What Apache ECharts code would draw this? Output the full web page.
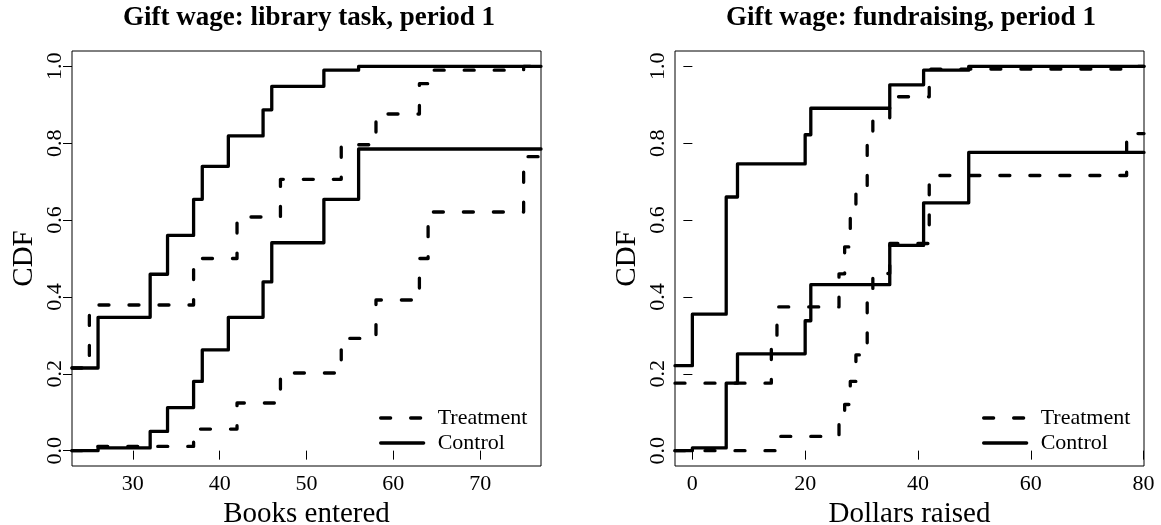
<!DOCTYPE html>
<html>
<head>
<meta charset="utf-8">
<script src="https://cdn.jsdelivr.net/npm/echarts@6.0.0/dist/echarts.min.js"></script>
<style>
  html, body { margin: 0; padding: 0; background: #fff; }
  #chart { width: 1161px; height: 525px; }
</style>
</head>
<body>
<div id="chart"></div>
<script>
// axis ranges (R style, 4% padding)
const libRange = [23, 77]
const fundRange = [-3.08, 80.08]
const yRange = [-0.04, 1.04]
const libTicks = [30, 40, 50, 60, 70]
const fundTicks = [0, 20, 40, 60, 80]
const cdfTicks = [0, 0.2, 0.4, 0.6, 0.8, 1.0]

// library task: jump points and levels (first level = value left of first jump)
const libCtrlX = [26, 32, 34, 37, 38, 41, 45, 46, 52, 56]
const libCtrlHi = [0.215, 0.347, 0.459, 0.56, 0.654, 0.74, 0.819, 0.887, 0.948, 0.99, 1.0]
const libCtrlLo = [0, 0.007, 0.05, 0.112, 0.18, 0.262, 0.347, 0.439, 0.541, 0.654, 0.785]
const libTrtX = [25, 37, 42, 47, 54, 58, 63, 64, 75]
const libTrtHi = [0.215, 0.379, 0.5, 0.608, 0.706, 0.796, 0.876, 0.955, 0.99, 1.0]
const libTrtLo = [0, 0.011, 0.056, 0.124, 0.202, 0.292, 0.392, 0.5, 0.621, 0.765]

// fundraising
const fundCtrlX = [0, 6, 8, 20, 21, 35, 41, 49]
const fundCtrlHi = [0.221, 0.355, 0.66, 0.746, 0.822, 0.891, 0.952, 0.99, 1.0]
const fundCtrlLo = [0, 0.007, 0.1755, 0.252, 0.338, 0.432, 0.534, 0.645, 0.776]
const fundTrtHiX = [14, 15, 26, 27, 28, 29, 31, 32, 35, 42, 77]
const fundTrtHi = [0.1755, 0.283, 0.374, 0.46, 0.53, 0.612, 0.683, 0.809, 0.866, 0.921, 0.993, 1.0]
const fundTrtLoX = [15, 26, 27, 28, 29, 31, 32, 35, 42, 77]
const fundTrtLo = [0, 0.037, 0.079, 0.12, 0.18, 0.249, 0.387, 0.461, 0.539, 0.716, 0.825]

const serif = "'Liberation Serif', 'DejaVu Serif', serif"

function stepLine(xs, ys, range) {
  const pts = [[range[0], ys[0]]]
  xs.forEach((x, i) => pts.push([x, ys[i + 1]]))
  pts.push([range[1], ys[ys.length - 1]])
  return pts
}

function cdfSeries(name, data, idx, dashed) {
  return {
    name: name,
    type: 'line',
    xAxisIndex: idx,
    yAxisIndex: idx,
    data: data,
    step: 'end',
    symbol: 'none',
    silent: true,
    itemStyle: { color: '#000' },
    lineStyle: {
      color: '#000',
      width: 3.3,
      type: dashed ? [10, 20] : 'solid',
      cap: 'round',
      join: 'round'
    }
  }
}

function xAxis(idx, range, ticks, name) {
  return {
    type: 'value',
    gridIndex: idx,
    min: range[0],
    max: range[1],
    name: name,
    nameLocation: 'middle',
    nameGap: 24,
    nameTextStyle: { fontFamily: serif, fontSize: 29, color: '#000' },
    axisLine: { show: false },
    splitLine: { show: false },
    axisTick: { show: true, inside: false, length: 9, customValues: ticks, lineStyle: { color: '#000', width: 1 } },
    axisLabel: { customValues: ticks, margin: 7, fontFamily: serif, fontSize: 22, color: '#000' }
  }
}

function yAxis(idx) {
  return {
    type: 'value',
    gridIndex: idx,
    min: yRange[0],
    max: yRange[1],
    name: 'CDF',
    nameLocation: 'middle',
    nameGap: 33,
    nameTextStyle: { fontFamily: serif, fontSize: 29, color: '#000' },
    axisLine: { show: false },
    splitLine: { show: false },
    axisTick: { show: true, inside: false, length: 9, customValues: cdfTicks, lineStyle: { color: '#000', width: 1 } },
    axisLabel: {
      customValues: cdfTicks,
      rotate: 90,
      margin: 6,
      fontFamily: serif,
      fontSize: 22,
      color: '#000',
      formatter: v => v.toFixed(1)
    }
  }
}

function legend(left) {
  return {
    left: left,
    top: 402,
    orient: 'vertical',
    itemWidth: 43,
    itemHeight: 22,
    itemGap: 3,
    data: ['Treatment', 'Control'],
    selectedMode: false,
    itemStyle: { opacity: 0 },
    lineStyle: { width: 3.3, color: '#000' },
    textStyle: { fontFamily: serif, fontSize: 22, color: '#000', lineHeight: 22, padding: [0, 0, 0, 9] }
  }
}

const chart = echarts.init(document.getElementById('chart'), null, { renderer: 'canvas' })
chart.setOption({
  animation: false,
  backgroundColor: '#fff',
  title: [
    { text: 'Gift wage: library task, period 1', left: 304, textAlign: 'center', top: 0,
      textStyle: { fontFamily: serif, fontSize: 27, fontWeight: 'bold', color: '#000' } },
    { text: 'Gift wage: fundraising, period 1', left: 906, textAlign: 'center', top: 0,
      textStyle: { fontFamily: serif, fontSize: 27, fontWeight: 'bold', color: '#000' } }
  ],
  legend: [legend(374), legend(977)],
  grid: [
    { left: 72, top: 51, width: 469, height: 415, show: true, borderColor: '#000', borderWidth: 1, outerBoundsMode: 'none' },
    { left: 675, top: 51, width: 469, height: 415, show: true, borderColor: '#000', borderWidth: 1, outerBoundsMode: 'none' }
  ],
  xAxis: [xAxis(0, libRange, libTicks, 'Books entered'), xAxis(1, fundRange, fundTicks, 'Dollars raised')],
  yAxis: [yAxis(0), yAxis(1)],
  series: [
    cdfSeries('Treatment', stepLine(libTrtX, libTrtHi, libRange), 0, true),
    cdfSeries('Treatment', stepLine(libTrtX, libTrtLo, libRange), 0, true),
    cdfSeries('Control', stepLine(libCtrlX, libCtrlHi, libRange), 0, false),
    cdfSeries('Control', stepLine(libCtrlX, libCtrlLo, libRange), 0, false),
    cdfSeries('Treatment', stepLine(fundTrtHiX, fundTrtHi, fundRange), 1, true),
    cdfSeries('Treatment', stepLine(fundTrtLoX, fundTrtLo, fundRange), 1, true),
    cdfSeries('Control', stepLine(fundCtrlX, fundCtrlHi, fundRange), 1, false),
    cdfSeries('Control', stepLine(fundCtrlX, fundCtrlLo, fundRange), 1, false)
  ]
})
</script>
</body>
</html>
